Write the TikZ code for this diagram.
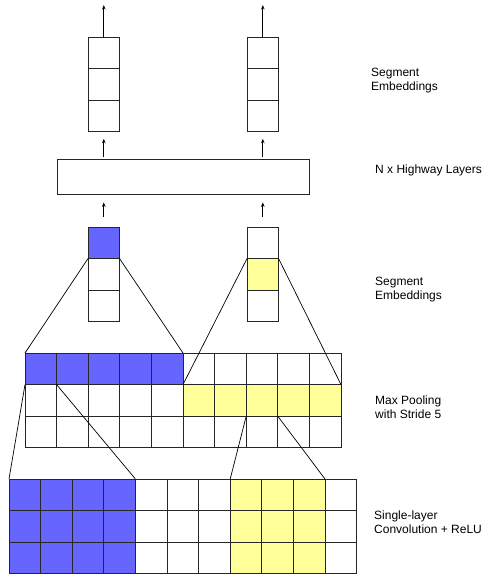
\documentclass[tikz,border=0pt]{standalone}
\usepackage{fontspec}
\setmainfont{Liberation Sans}
\usepackage{tikz}
\usetikzlibrary{arrows.meta, positioning}
\definecolor{poolblue}{RGB}{102, 102, 255}
\definecolor{poolyellow}{RGB}{255, 255, 153}

\tikzset{
    cell/.style={draw=black!85, line width=0.8pt, minimum size=31.6pt, inner sep=0pt, outer sep=0pt},
    uparrow/.style={-{Stealth[length=4.5pt, width=3.5pt]}, line width=0.8pt},
    funnel/.style={line width=0.7pt},
    layerlabel/.style={anchor=west, align=left, inner sep=0pt, font=\fontsize{12}{14}\selectfont}
}

\begin{document}
\begin{tikzpicture}[x=1pt, y=1pt]
    \useasboundingbox (0, 0) rectangle (486, 576);
    \def\cw{31.6}

    % Convolution feature map (3 x 11)
    \foreach \c in {0,...,10} {
        \foreach \r in {0,1,2} {
            \ifnum\c<4 \def\fc{poolblue}\else
                \ifnum\c>6 \ifnum\c<10 \def\fc{poolyellow}\else\def\fc{white}\fi
                \else\def\fc{white}\fi
            \fi
            \node[cell, fill=\fc] (conv-\r-\c) at ({9+(\c+0.5)*\cw}, {97-(\r+0.5)*\cw}) {};
        }
    }

    % Max pooling map (3 x 10)
    \foreach \c in {0,...,9} {
        \foreach \r in {0,1,2} {
            \def\fc{white}
            \ifnum\r=0 \ifnum\c<5 \def\fc{poolblue}\fi\fi
            \ifnum\r=1 \ifnum\c>4 \def\fc{poolyellow}\fi\fi
            \node[cell, fill=\fc] (pool-\r-\c) at ({25+(\c+0.5)*\cw}, {223-(\r+0.5)*\cw}) {};
        }
    }

    % Segment embeddings after pooling
    \node[cell, fill=poolblue] (embL-0) at (103.8, 333.2) {};
    \node[cell, below=0pt of embL-0] (embL-1) {};
    \node[cell, below=0pt of embL-1] (embL-2) {};
    \node[cell] (embR-0) at (262.8, 333.2) {};
    \node[cell, fill=poolyellow, below=0pt of embR-0] (embR-1) {};
    \node[cell, below=0pt of embR-1] (embR-2) {};

    % Highway layers
    \node[draw=black!85, line width=0.8pt, minimum width=252pt, minimum height=35pt, inner sep=0pt] (hwy) at (183, 399.5) {};

    % Output segment embeddings
    \node[cell] (topL-0) at (103.8, 523.2) {};
    \node[cell, below=0pt of topL-0] (topL-1) {};
    \node[cell, below=0pt of topL-1] (topL-2) {};
    \node[cell] (topR-0) at (262.8, 523.2) {};
    \node[cell, below=0pt of topR-0] (topR-1) {};
    \node[cell, below=0pt of topR-1] (topR-2) {};
    \coordinate (outL) at (103.8, 571);
    \coordinate (outR) at (262.8, 571);

    % Arrows
    \draw[uparrow, shorten <=10pt, shorten >=8pt] (embL-0.north) -- (hwy.south -| embL-0.north);
    \draw[uparrow, shorten <=10pt, shorten >=8pt] (embR-0.north) -- (hwy.south -| embR-0.north);
    \draw[uparrow, shorten <=2pt, shorten >=7pt] (hwy.north -| topL-2.south) -- (topL-2.south);
    \draw[uparrow, shorten <=2pt, shorten >=7pt] (hwy.north -| topR-2.south) -- (topR-2.south);
    \draw[uparrow] (topL-0.north) -- (outL);
    \draw[uparrow] (topR-0.north) -- (outR);

    % Funnel lines
    \draw[funnel] (embL-0.south west) -- (pool-0-0.north west);
    \draw[funnel] (embL-0.south east) -- (pool-0-5.north west);
    \draw[funnel] (embR-1.north west) -- (pool-1-5.north west);
    \draw[funnel] (embR-1.north east) -- (pool-1-9.north east);
    \draw[funnel] (pool-0-0.south west) -- (conv-0-0.north west);
    \draw[funnel] (pool-0-1.south west) -- (conv-0-4.north west);
    \draw[funnel] (pool-1-7.south west) -- (conv-0-7.north west);
    \draw[funnel] (pool-1-8.south west) -- (conv-0-10.north west);

    % Layer labels
    \node[layerlabel] (lab-top) at (371, 495) {Segment\\Embeddings};
    \node[layerlabel] (lab-hwy) at (375, 406) {N x Highway Layers};
    \node[layerlabel] (lab-emb) at (375, 286) {Segment\\Embeddings};
    \node[layerlabel] (lab-pool) at (375, 169) {Max Pooling\\with Stride 5};
    \node[layerlabel] (lab-conv) at (374, 54) {Single-layer\\Convolution + ReLU};
\end{tikzpicture}
\end{document}
